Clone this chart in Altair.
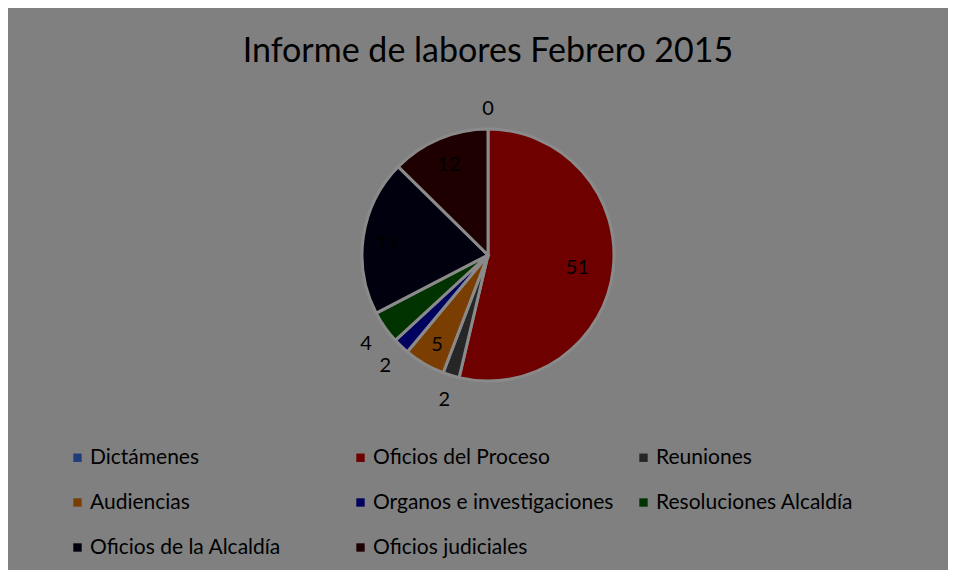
import altair as alt
import pandas as pd

categories = ["Dictámenes", "Oficios del Proceso", "Reuniones", "Audiencias",
              "Organos e investigaciones", "Resoluciones Alcaldía",
              "Oficios de la Alcaldía", "Oficios judiciales"]
values = [0, 51, 2, 5, 2, 4, 19, 12]
colors = ["#1f3c78", "#6e0000", "#262626", "#7a3e02", "#00005e", "#003300",
          "#00000f", "#1e0000"]

df = pd.DataFrame({"cat": categories, "value": values, "idx": list(range(len(values)))})

FONT = "Lato"

arcs = alt.Chart().mark_arc(outerRadius=126, stroke="#8a8a8a", strokeWidth=3).encode(
    theta=alt.Theta("value:Q", stack=True),
    order=alt.Order("idx:Q"),
    x=alt.value(480),
    y=alt.value(247),
    color=alt.Color(
        "cat:N",
        scale=alt.Scale(domain=categories, range=colors),
        legend=alt.Legend(
            title=None, orient="none", legendX=59, legendY=439,
            direction="horizontal",
            columns=3, gridAlign="all", columnPadding=19, rowPadding=23,
            symbolType="square", symbolSize=70, symbolStrokeWidth=0,
            labelFont=FONT, labelFontSize=21, labelColor="#000000",
            labelLimit=400, labelOffset=2,
        ),
    ),
)

labels = alt.Chart().transform_window(
    cum="sum(value)", sort=[alt.SortField("idx")], frame=[None, 0]
).transform_calculate(
    mid="datum.cum - datum.value / 2",
    lr="datum.value < 5 ? 149 : (datum.value > 40 ? 90 : 101)",
).mark_text(font=FONT, fontSize=20, color="#000000").encode(
    theta=alt.Theta("mid:Q", stack=None),
    x=alt.value(480),
    y=alt.value(250),
    radius=alt.Radius("lr:Q", scale=None),
    text=alt.Text("value:Q"),
)

chart = alt.layer(arcs, labels, data=df).properties(
    width=940, height=562,
    autosize=alt.AutoSizeParams(type="none"),
    padding=0,
    background="#808080",
    title=alt.TitleParams(
        "Informe de labores Febrero 2015", font=FONT, fontSize=34,
        fontWeight="normal", color="#000000", anchor="middle",
        baseline="alphabetic", offset=0, dy=88, dx=10,
    ),
).configure_view(stroke=None)

chart.save("out.html", embed_options={"renderer": "svg", "actions": False})
